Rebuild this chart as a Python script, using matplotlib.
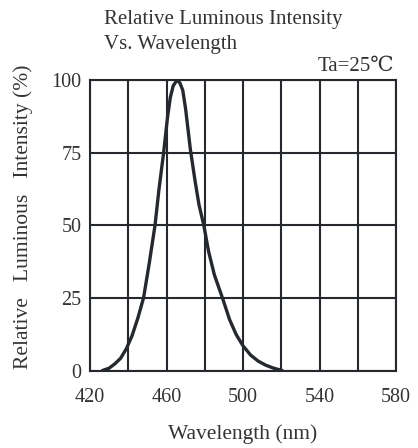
import matplotlib
matplotlib.use("Agg")
import matplotlib.pyplot as plt
from matplotlib.ticker import MultipleLocator

# ─────────────────────────────────────────────
# DATA
# ─────────────────────────────────────────────
wavelength = [426.5, 430, 433, 436, 439, 442, 445, 448, 451, 454, 456, 458.5,
              460.5, 462, 463.5, 465.5, 467, 468.5, 470, 472.5, 475, 477, 479.5,
              482, 485, 489.5, 493, 496.5, 500, 504, 508, 512, 516, 520.5]
intensity = [0, 0.8, 2.3, 4.2, 7.5, 12, 18, 25, 37, 50, 62, 75,
             87, 94, 98, 100, 99, 96.5, 90, 76, 65, 57, 50,
             41, 33, 24.5, 17.5, 12.3, 8.5, 5.3, 3.2, 1.8, 0.8, 0]

x_ticks = [420, 460, 500, 540, 580]
y_ticks = [0, 25, 50, 75, 100]

SERIF = ["Liberation Serif", "DejaVu Serif"]
INK = "#25282d"
TXT = "#333333"

plt.rcParams["font.family"] = SERIF

fig = plt.figure(figsize=(4.18, 4.48), dpi=100)
ax = fig.add_axes([90 / 418, 1 - 370.5 / 448, 306 / 418, 290.5 / 448])

ax.plot(wavelength, intensity, color=INK, lw=2.4, solid_capstyle="round", zorder=3)

ax.set_xlim(420, 580)
ax.set_ylim(0, 100)
ax.set_xticks(x_ticks)
ax.xaxis.set_minor_locator(MultipleLocator(20))
ax.set_yticks(y_ticks)

ax.grid(True, which="both", axis="x", color=INK, lw=1.5)
ax.grid(True, which="major", axis="y", color=INK, lw=1.5)
ax.tick_params(which="both", length=0, labelsize=14.5, labelcolor=TXT)
ax.tick_params(axis="x", pad=12.5)
ax.tick_params(axis="y", pad=6)
for s in ax.spines.values():
    s.set_color(INK)
    s.set_linewidth(1.5)

ax.set_xlabel("Wavelength (nm)", fontsize=15.5, color=TXT, labelpad=12.5)
ax.set_ylabel("Relative   Luminous   Intensity (%)", fontsize=15.5, color=TXT)
ax.yaxis.set_label_coords(-0.186, 0.53)

fig.text(104 / 418, 1 - 24 / 448, "Relative Luminous Intensity", fontsize=15,
         color=TXT, ha="left", va="baseline")
fig.text(104 / 418, 1 - 49 / 448, "Vs. Wavelength", fontsize=15,
         color=TXT, ha="left", va="baseline")
fig.text(394 / 418, 1 - 71 / 448, "Ta=25\u2103", fontsize=15, color=TXT,
         ha="right", va="baseline")

fig.savefig("out.png", dpi=100)
